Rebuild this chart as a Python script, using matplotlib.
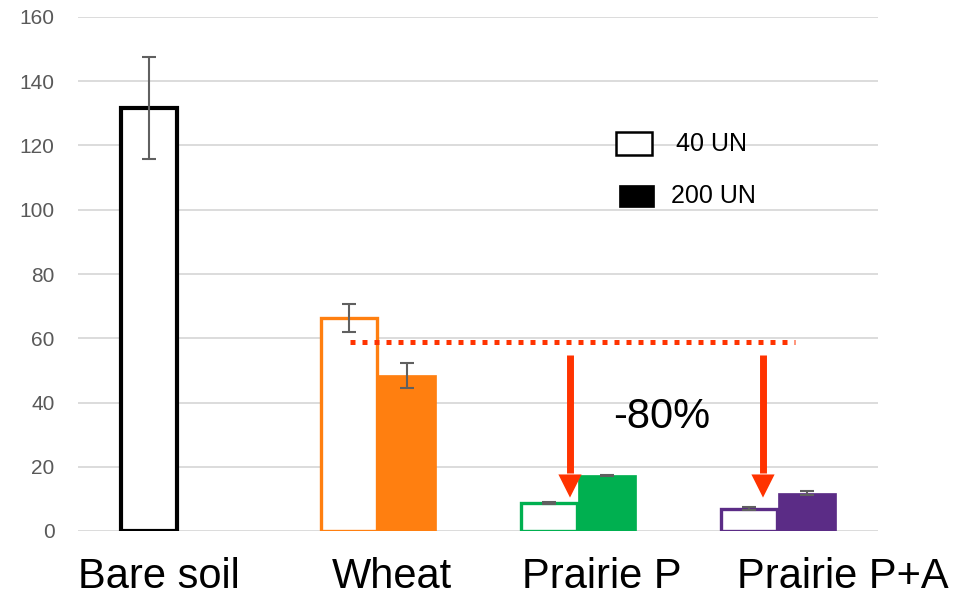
import matplotlib
matplotlib.use("Agg")
import matplotlib.pyplot as plt
from matplotlib.patches import Rectangle

plt.rcParams['font.family'] = ['Liberation Sans', 'DejaVu Sans']

categories = ["Bare soil", "Wheat", "Prairie P", "Prairie P+A"]
vals_40 = [131.7, 66.3, 8.6, 7.0]
err_40 = [16.0, 4.3, 0.3, 0.4]
vals_200 = [None, 48.5, 17.3, 11.8]
err_200 = [None, 3.9, 0.2, 0.6]
colors = ["#000000", "#FF7F10", "#00B050", "#5B2C86"]
ref_level = 58.8
arrow_from = 54.8
arrow_to = 10.4
arrow_x = [1.96, 2.925]
label_text = "-80%"
legend_labels = ["40 UN", "200 UN"]
yticks = [0, 20, 40, 60, 80, 100, 120, 140, 160]

W, H = 955, 596
fig = plt.figure(figsize=(W / 100, H / 100), dpi=100)
ax = fig.add_axes([78 / W, 65 / H, 800 / W, 514 / H])
ax.set_xlim(-0.5, 3.5)
ax.set_ylim(0, 160)
for s in ax.spines.values():
    s.set_visible(False)
ax.set_yticks(yticks)
ax.set_yticklabels([str(t) for t in yticks], fontsize=15, color="#595959")
ax.tick_params(axis='y', length=0, pad=17)
ax.set_xticks([])
ax.grid(axis='y', color="#D9D9D9", linewidth=1.3)
ax.set_axisbelow(True)

bw = 0.29
off = 0.145
err_kw = dict(ecolor="#606060", elinewidth=1.5, capsize=5, capthick=1.5)
for i, cat in enumerate(categories):
    lw = 3.0 if i == 0 else 2.4
    ax.bar(i - off, vals_40[i], width=bw - 0.012, facecolor="white",
           edgecolor=colors[i], linewidth=lw, zorder=2)
    ax.errorbar(i - off, vals_40[i], yerr=err_40[i], fmt='none', zorder=3, **err_kw)
    if vals_200[i] is not None:
        ax.bar(i + off, vals_200[i], width=bw, facecolor=colors[i],
               edgecolor=colors[i], linewidth=0.5, zorder=2)
        ax.errorbar(i + off, vals_200[i], yerr=err_200[i], fmt='none', zorder=3, **err_kw)

# dotted reference line
ax.plot([0.86, 3.085], [ref_level, ref_level], color="#FF3300", linewidth=3.6,
        linestyle=(0, (1, 1.4)), dash_capstyle='butt', zorder=4)

# arrows: shaft + triangular head
head_len = 7.2      # in y data units (~23 px)
head_half = 0.058   # in x data units (~11.5 px)
for xa in arrow_x:
    base = arrow_to + head_len
    ax.plot([xa, xa], [arrow_from, base + 0.5], color="#FF3300", linewidth=5.0,
            solid_capstyle='butt', zorder=5)
    ax.fill([xa - head_half, xa + head_half, xa], [base, base, arrow_to],
            color="#FF3300", linewidth=0, zorder=5)

ax.text(2.42, 35.5, label_text, fontsize=30, ha='center', va='center', color="black")

# category labels
label_x = [-0.095, 1.07, 2.12, 3.325]
for x, cat in zip(label_x, categories):
    ax.text(x, -17.7, cat, fontsize=30, ha='center', va='baseline',
            color="black", clip_on=False)

# legend (manual)
def fx(px):
    return px / W
def fy(py):
    return 1 - py / H
fig.add_artist(Rectangle((fx(616), fy(155)), 36 / W, 23 / H, facecolor="white",
                         edgecolor="black", linewidth=1.8, transform=fig.transFigure))
fig.add_artist(Rectangle((fx(619), fy(207)), 35 / W, 22 / H, facecolor="black",
                         edgecolor="black", linewidth=0.5, transform=fig.transFigure))
fig.text(fx(676), fy(144), legend_labels[0], fontsize=18, va='center', ha='left')
fig.text(fx(671), fy(196), legend_labels[1], fontsize=18, va='center', ha='left')

fig.savefig("out.png", dpi=100)
